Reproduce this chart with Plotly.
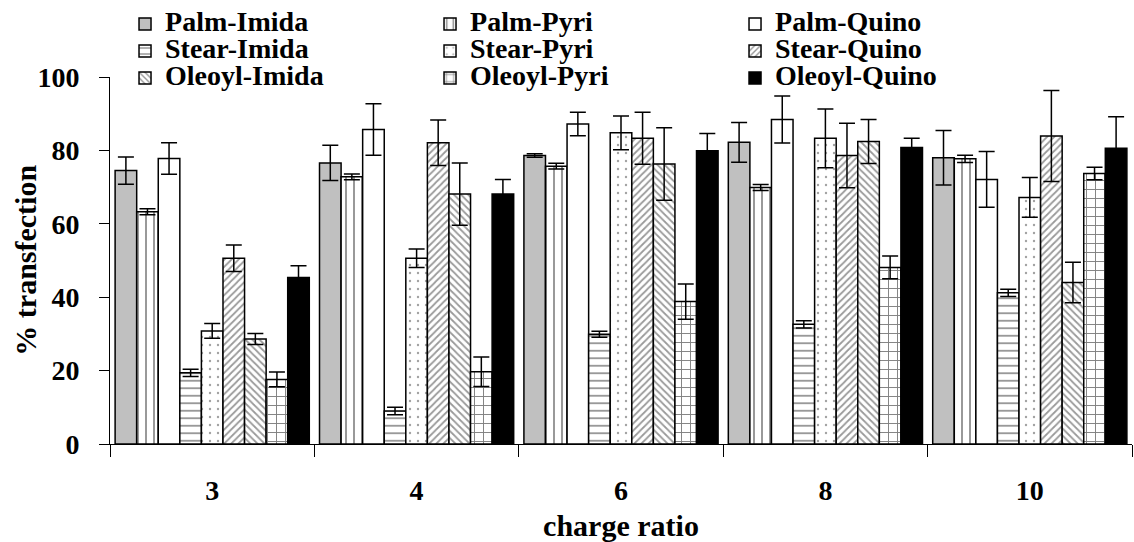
import plotly.graph_objects as go

categories = ["3", "4", "6", "8", "10"]
series_names = ["Palm-Imida", "Palm-Pyri", "Palm-Quino",
                "Stear-Imida", "Stear-Pyri", "Stear-Quino",
                "Oleoyl-Imida", "Oleoyl-Pyri", "Oleoyl-Quino"]

palm_imida = [74.5, 76.6, 78.6, 82.2, 78.0]
palm_imida_err = [3.7, 4.8, 0.5, 5.4, 7.4]
palm_pyri = [63.3, 72.8, 75.7, 69.9, 77.7]
palm_pyri_err = [0.8, 0.8, 0.8, 0.8, 1.0]
palm_quino = [77.8, 85.7, 87.2, 88.4, 72.1]
palm_quino_err = [4.3, 7.0, 3.2, 6.4, 7.6]
stear_imida = [19.4, 9.0, 29.9, 32.6, 41.2]
stear_imida_err = [1.0, 1.0, 0.8, 1.0, 1.0]
stear_pyri = [30.8, 50.6, 84.8, 83.3, 67.2]
stear_pyri_err = [2.0, 2.5, 4.6, 8.0, 5.4]
stear_quino = [50.6, 82.1, 83.3, 78.6, 83.9]
stear_quino_err = [3.6, 6.2, 7.1, 8.8, 12.4]
oleoyl_imida = [28.6, 68.1, 76.3, 82.4, 44.0]
oleoyl_imida_err = [1.5, 8.5, 9.9, 6.0, 5.5]
oleoyl_pyri = [17.6, 19.7, 38.8, 48.1, 73.7]
oleoyl_pyri_err = [2.0, 4.0, 4.8, 3.1, 1.7]
oleoyl_quino = [45.4, 68.1, 79.9, 80.8, 80.6]
oleoyl_quino_err = [3.2, 4.0, 4.7, 2.5, 8.6]

x_title = "charge ratio"
y_title = "% transfection"

values = [palm_imida, palm_pyri, palm_quino, stear_imida, stear_pyri,
          stear_quino, oleoyl_imida, oleoyl_pyri, oleoyl_quino]
errors = [palm_imida_err, palm_pyri_err, palm_quino_err, stear_imida_err,
          stear_pyri_err, stear_quino_err, oleoyl_imida_err, oleoyl_pyri_err,
          oleoyl_quino_err]

styles = [
    dict(color="#c0c0c0", pattern=None),
    dict(color="white", pattern=dict(shape="|", size=8, solidity=0.2)),
    dict(color="white", pattern=None),
    dict(color="white", pattern=dict(shape="-", size=7.5, solidity=0.2)),
    dict(color="white", pattern=dict(shape=".", size=8, solidity=0.07, fgcolor="#444")),
    dict(color="white", pattern=dict(shape="/", size=5, solidity=0.35, fgcolor="#333")),
    dict(color="white", pattern=dict(shape="\\", size=5, solidity=0.35, fgcolor="#333")),
    dict(color="white", pattern=dict(shape="+", size=9, solidity=0.2)),
    dict(color="black", pattern=None),
]

FONT = "Liberation Serif"

fig = go.Figure()
for name, vals, errs, st in zip(series_names, values, errors, styles):
    marker = dict(color=st["color"], line=dict(color="black", width=1.5))
    if st["pattern"] is not None:
        p = dict(fgcolor="black", bgcolor="white", fillmode="overlay")
        p.update(st["pattern"])
        marker["pattern"] = p
    fig.add_trace(go.Bar(
        x=categories, y=vals,
        name='<span style="font-size:28px">' + name + '</span>',
        marker=marker,
        error_y=dict(type="data", array=errs, visible=True,
                     color="black", thickness=1.5, width=8),
    ))

fig.update_layout(
    width=1134, height=542,
    margin=dict(l=110, r=2, t=77, b=98, autoexpand=False),
    paper_bgcolor="white", plot_bgcolor="white",
    barmode="group", bargap=0.05, bargroupgap=0,
    font=dict(family=FONT, color="black"),
    showlegend=True,
    legend=dict(
        orientation="h", xref="paper", x=0.0147, xanchor="left",
        yref="paper", y=1.195, yanchor="top",
        entrywidth=260, entrywidthmode="pixels",
        font=dict(family=FONT, size=18.5, weight="bold", color="black"),
        traceorder="normal", itemwidth=30, bgcolor="rgba(0,0,0,0)",
    ),
    xaxis=dict(
        type="category", showline=True, linecolor="black", linewidth=1,
        ticks="outside", tickson="boundaries", ticklen=12, tickcolor="black",
        tickfont=dict(family=FONT, size=28, weight="bold"),
        ticklabelstandoff=21,
        title=dict(text=x_title, standoff=12,
                   font=dict(family=FONT, size=30, weight="bold")),
        automargin=False, showgrid=False,
    ),
    yaxis=dict(
        range=[0, 100], tickvals=[0, 20, 40, 60, 80, 100],
        showline=True, linecolor="black", linewidth=1,
        ticks="outside", ticklen=10, tickcolor="black",
        tickfont=dict(family=FONT, size=28, weight="bold"),
        ticklabelstandoff=14,
        automargin=False, showgrid=False, zeroline=False,
    ),
    annotations=[dict(
        text=y_title, textangle=-90, xref="paper", yref="paper",
        x=-0.083, y=0.5, xanchor="center", yanchor="middle", showarrow=False,
        font=dict(family=FONT, size=30, weight="bold", color="black"),
    )],
)

fig.write_html(
    "out.html",
    config={"displayModeBar": False},
    post_script="document.body.style.margin='0';document.body.style.overflow='hidden';",
)
